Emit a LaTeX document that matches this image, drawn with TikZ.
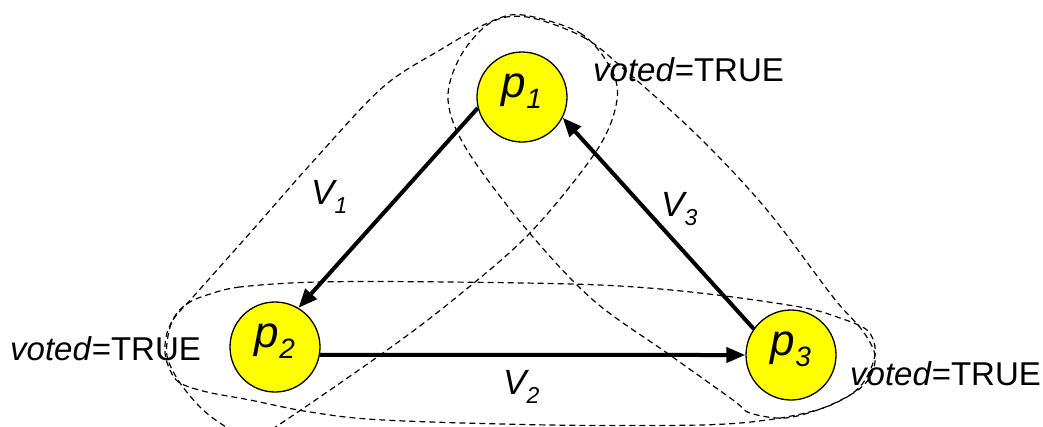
\documentclass[tikz,border=0pt]{standalone}
\usepackage{fontspec}
\setmainfont{Liberation Sans}
\usetikzlibrary{arrows.meta}
\definecolor{pyellow}{RGB}{255,255,0}
\newcommand\procname[2]{{\fontsize{44}{44}\selectfont\itshape #1}\raisebox{-11pt}{\fontsize{28}{28}\selectfont\itshape #2}}
\newcommand\msgname[2]{{\fontsize{35}{35}\selectfont\itshape #1}\raisebox{-9pt}{\fontsize{23}{23}\selectfont\itshape #2}}
\begin{document}
\begin{tikzpicture}[x=1pt,y=-1pt,
  proc/.style={circle, draw=black, line width=1.3pt, fill=pyellow, minimum size=90pt, inner sep=0pt, text height=12pt, text depth=12pt},
  msg/.style={-{Triangle[length=19pt,width=15pt]}, line width=4pt},
  grp/.style={draw=black, line width=1.2pt, dash pattern=on 6pt off 4pt},
  lbl/.style={anchor=base west, inner sep=0pt, font=\fontsize{33}{40}\selectfont},
  vlbl/.style={anchor=base west, inner sep=0pt}
]
\useasboundingbox (0,0) rectangle (1043,426);
\clip (0,0) rectangle (1043,426);
\fill[white] (0,0) rectangle (1043,426);

% group p1-p2
\draw[grp] plot[smooth cycle, tension=0.55] coordinates {
  (523,15) (580,33) (610,67) (617,100) (597,150) (530,233) (453,300) (383,353)
  (277,426) (250,440) (220,423) (200,407) (180,383) (168,360) (167,343) (173,320)
  (193,297) (250,233) (317,157) (383,87) (440,50) (490,22)};
% group p1-p3
\draw[grp] plot[smooth cycle, tension=0.55] coordinates {
  (527,17) (583,37) (625,70) (700,138) (767,210) (833,297) (862,330) (875,355)
  (870,377) (855,392) (823,408) (785,418) (750,413) (733,400) (667,353) (593,300)
  (527,230) (467,150) (448,100) (460,57) (490,23)};
% group p2-p3
\draw[grp] plot[smooth cycle, tension=0.55] coordinates {
  (317,282) (240,287) (207,295) (190,302) (177,313) (167,333) (165,353) (170,370)
  (180,383) (207,392) (250,400) (310,412) (383,420) (550,425) (700,425) (767,420)
  (817,410) (847,397) (863,383) (873,363) (875,347) (867,330) (840,318) (800,307)
  (700,293) (600,285) (450,282)};

\node[proc] (p1) at (522,97) {\procname{p}{1}};
\node[proc] (p2) at (275,347) {\procname{p}{2}};
\node[proc] (p3) at (791,355) {\procname{p}{3}};

\draw[msg] (p1.194) -- (p2.59);
\draw[msg] (p2.-10) -- (p3.180);
\draw[msg] (p3.145) -- (p1.-27);

\node[vlbl] (v1) at (311,204) {\msgname{V}{1}};
\node[vlbl] (v2) at (503,394) {\msgname{V}{2}};
\node[vlbl] (v3) at (661,216) {\msgname{V}{3}};

\node[lbl] (t1) at (593,81) {\textit{voted}=TRUE};
\node[lbl] (t2) at (10,360) {\textit{voted}=TRUE};
\node[lbl] (t3) at (850,385) {\textit{voted}=TRUE};
\end{tikzpicture}
\end{document}
